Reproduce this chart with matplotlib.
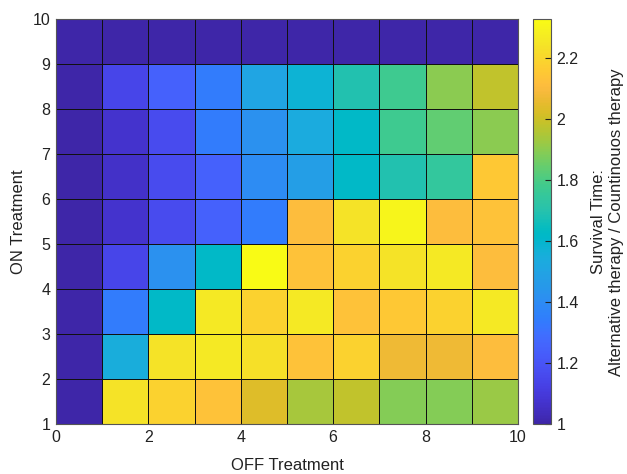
import numpy as np
import matplotlib.pyplot as plt
from matplotlib.colors import LinearSegmentedColormap

plt.rcParams['font.family'] = ['Liberation Sans', 'DejaVu Sans']

# MATLAB parula (64 entries)
parula_data = [
    [0.2422, 0.1504, 0.6603], [0.2504, 0.1650, 0.7076], [0.2578, 0.1818, 0.7511],
    [0.2647, 0.1978, 0.7952], [0.2706, 0.2147, 0.8364], [0.2751, 0.2342, 0.8710],
    [0.2783, 0.2559, 0.8991], [0.2803, 0.2782, 0.9221], [0.2813, 0.3006, 0.9414],
    [0.2810, 0.3228, 0.9579], [0.2795, 0.3447, 0.9717], [0.2760, 0.3667, 0.9829],
    [0.2699, 0.3892, 0.9906], [0.2602, 0.4123, 0.9952], [0.2440, 0.4358, 0.9988],
    [0.2206, 0.4603, 0.9973], [0.1963, 0.4847, 0.9892], [0.1834, 0.5074, 0.9798],
    [0.1786, 0.5289, 0.9682], [0.1764, 0.5499, 0.9520], [0.1687, 0.5703, 0.9359],
    [0.1540, 0.5902, 0.9218], [0.1460, 0.6091, 0.9079], [0.1380, 0.6276, 0.8973],
    [0.1248, 0.6459, 0.8883], [0.1113, 0.6635, 0.8763], [0.0952, 0.6798, 0.8598],
    [0.0689, 0.6948, 0.8394], [0.0297, 0.7082, 0.8163], [0.0036, 0.7203, 0.7917],
    [0.0067, 0.7312, 0.7660], [0.0433, 0.7411, 0.7394], [0.0964, 0.7500, 0.7120],
    [0.1408, 0.7584, 0.6842], [0.1717, 0.7670, 0.6554], [0.1938, 0.7758, 0.6251],
    [0.2161, 0.7843, 0.5923], [0.2470, 0.7918, 0.5567], [0.2906, 0.7973, 0.5188],
    [0.3406, 0.8008, 0.4789], [0.3909, 0.8029, 0.4354], [0.4456, 0.8024, 0.3909],
    [0.5044, 0.7993, 0.3480], [0.5616, 0.7942, 0.3045], [0.6174, 0.7876, 0.2612],
    [0.6720, 0.7793, 0.2227], [0.7242, 0.7698, 0.1910], [0.7738, 0.7598, 0.1646],
    [0.8203, 0.7498, 0.1535], [0.8634, 0.7406, 0.1596], [0.9035, 0.7330, 0.1774],
    [0.9393, 0.7288, 0.2100], [0.9728, 0.7298, 0.2394], [0.9956, 0.7434, 0.2371],
    [0.9970, 0.7659, 0.2199], [0.9952, 0.7893, 0.2028], [0.9892, 0.8136, 0.1885],
    [0.9786, 0.8386, 0.1766], [0.9676, 0.8639, 0.1643], [0.9610, 0.8890, 0.1537],
    [0.9597, 0.9135, 0.1423], [0.9628, 0.9373, 0.1265], [0.9691, 0.9606, 0.1064],
    [0.9769, 0.9839, 0.0805],
]
parula = LinearSegmentedColormap.from_list('parula', parula_data)

# cell edges
off_edges = np.arange(0, 11)   # OFF treatment, 0..10
on_edges = np.arange(1, 11)    # ON treatment, 1..10

# survival ratio, rows from ON=1 (bottom) to ON=9 (top)
row_on1 = [1.00, 2.24, 2.185, 2.13, 2.03, 1.94, 1.98, 1.887, 1.887, 1.918]
row_on2 = [1.00, 1.546, 2.24, 2.26, 2.23, 2.13, 2.185, 2.07, 2.07, 2.11]
row_on3 = [1.00, 1.34, 1.62, 2.26, 2.185, 2.26, 2.13, 2.15, 2.185, 2.26]
row_on4 = [1.00, 1.144, 1.423, 1.62, 2.32, 2.13, 2.185, 2.24, 2.26, 2.11]
row_on5 = [1.00, 1.072, 1.165, 1.247, 1.34, 2.11, 2.24, 2.30, 2.11, 2.13]
row_on6 = [1.00, 1.06, 1.165, 1.247, 1.40, 1.474, 1.62, 1.69, 1.742, 2.15]
row_on7 = [1.00, 1.072, 1.165, 1.34, 1.423, 1.536, 1.62, 1.773, 1.835, 1.897]
row_on8 = [1.00, 1.144, 1.247, 1.34, 1.505, 1.577, 1.69, 1.773, 1.897, 1.98]
row_on9 = [1.00, 1.00, 1.00, 1.00, 1.00, 1.00, 1.00, 1.00, 1.00, 1.00]

Z = np.array([row_on1, row_on2, row_on3, row_on4, row_on5,
              row_on6, row_on7, row_on8, row_on9])

fig = plt.figure(figsize=(6.27, 4.74), dpi=100)
ax = fig.add_axes([0.0893, 0.1055, 0.7367, 0.8535])
cax = fig.add_axes([0.850, 0.1055, 0.0287, 0.8535])

mesh = ax.pcolormesh(off_edges, on_edges, Z, cmap=parula, vmin=1, vmax=2.325,
                     edgecolor='#111111', linewidth=0.6)
ax.set_xlim(0, 10)
ax.set_ylim(1, 10)
ax.set_xticks(range(0, 11, 2))
ax.set_yticks(range(1, 11))
ax.tick_params(direction='in', length=0, labelsize=11.5, colors='#222222', pad=4)
for s in ax.spines.values():
    s.set_color('#555555')
    s.set_linewidth(0.8)
ax.set_xlabel('OFF Treatment', fontsize=12, color='#222222', labelpad=10)
ax.set_ylabel('ON Treatment', fontsize=12, color='#222222', labelpad=5)

cb = fig.colorbar(mesh, cax=cax)
cb.set_ticks([1, 1.2, 1.4, 1.6, 1.8, 2, 2.2])
cb.set_ticklabels(['1', '1.2', '1.4', '1.6', '1.8', '2', '2.2'])
cb.ax.tick_params(direction='in', length=4, width=0.8, labelsize=11.5,
                  colors='#222222', pad=4)
cb.outline.set_edgecolor('#555555')
cb.outline.set_linewidth(0.8)
cb.set_label('Survival Time:\nAlternative therapy / Countinouos therapy',
             fontsize=12, color='#222222', labelpad=9)

fig.savefig('out.png', dpi=100)
